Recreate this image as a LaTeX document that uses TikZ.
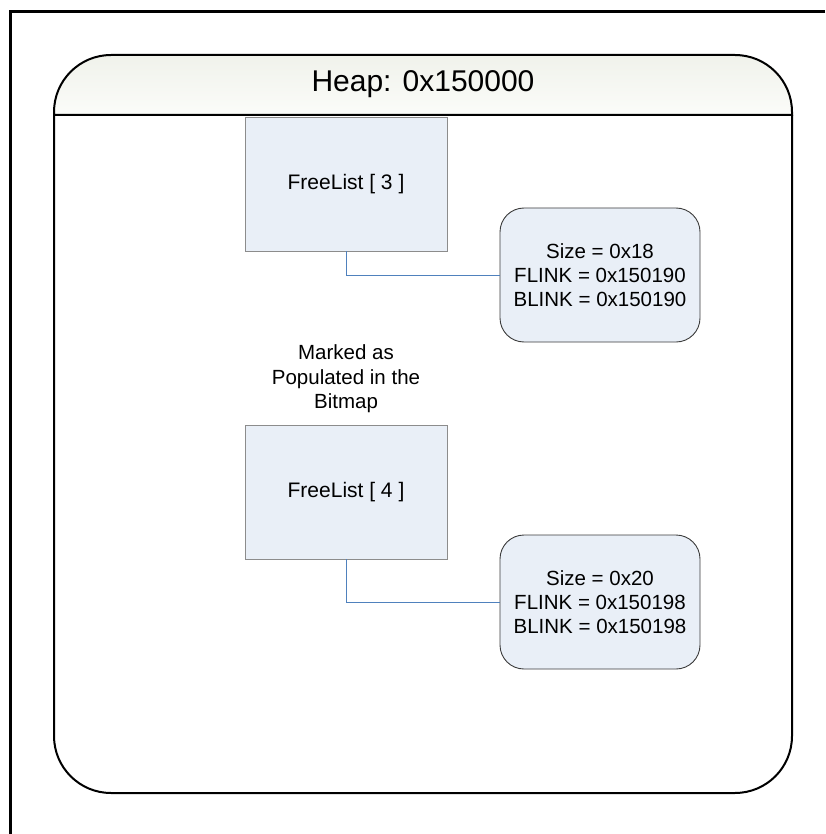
\documentclass[tikz,border=0pt]{standalone}
\usepackage{fontspec}
\setmainfont{Liberation Sans}
\begin{document}
\begin{tikzpicture}[x=1pt,y=-1pt,
  flbox/.style={draw={rgb,255:red,140;green,140;blue,140}, line width=0.8pt,
    fill={rgb,255:red,233;green,239;blue,247}, minimum width=202pt, minimum height=134pt,
    inner sep=0pt, font=\fontsize{21}{24}\selectfont},
  infobox/.style={draw={rgb,255:red,60;green,60;blue,60}, line width=0.9pt, rounded corners=24pt,
    fill={rgb,255:red,233;green,239;blue,247}, minimum width=200pt, minimum height=134pt,
    inner sep=0pt, align=center, font=\fontsize{20.5}{24.2}\selectfont},
  link/.style={draw={rgb,255:red,79;green,129;blue,189}, line width=0.8pt},
  lbl/.style={align=center, font=\fontsize{20.5}{24.5}\selectfont}
]
\useasboundingbox (0,0) rectangle (825,834);
% outer frame (top and left edges)
\draw[line width=3pt] (825,12) -- (10,12) -- (10,834);
% header
\shade[draw=black, line width=2pt,
  top color={rgb,255:red,240;green,242;blue,235}, bottom color={rgb,255:red,251;green,252;blue,249}]
  (54,115) -- (54,112) arc[start angle=180, end angle=270, radius=57]
  -- (735,55) arc[start angle=270, end angle=360, radius=57]
  -- (792,115) -- cycle;
% container body
\draw[line width=2pt] (54,115) -- (54,736) arc[start angle=180, end angle=90, radius=57]
  -- (735,793) arc[start angle=90, end angle=0, radius=57] -- (792,115);
\node[font=\fontsize{30}{34}\selectfont] (title) at (423,84) {Heap: 0x150000};
% freelist boxes
\node[flbox] (fl3) at (346,184) {FreeList [ 3 ]};
\node[flbox] (fl4) at (346,492) {FreeList [ 4 ]};
\node[lbl] (mark) at (346,379) {Marked as\\Populated in the\\Bitmap};
% info boxes
\node[infobox] (info1) at (600,275) {Size = 0x18\\FLINK = 0x150190\\BLINK = 0x150190};
\node[infobox] (info2) at (600,602) {Size = 0x20\\FLINK = 0x150198\\BLINK = 0x150198};
% connectors
\draw[link] (fl3.south) |- (info1.west);
\draw[link] (fl4.south) |- (info2.west);
\end{tikzpicture}
\end{document}
